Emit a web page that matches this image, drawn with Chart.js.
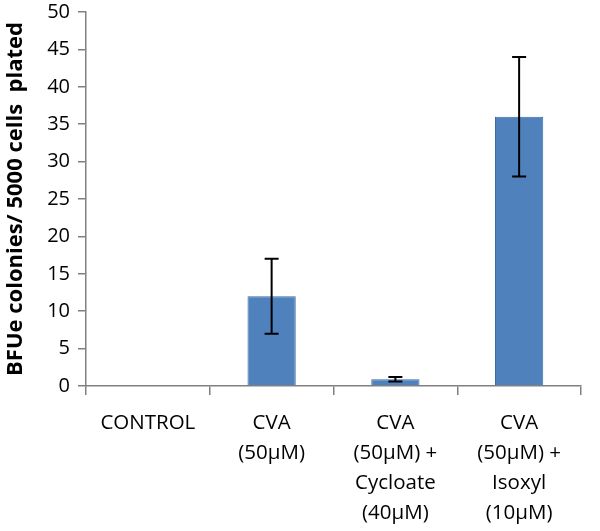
<!DOCTYPE html>
<html lang="en">

<head>
    <meta charset="UTF-8">
    <title>BFUe colonies</title>
    <style>
        html, body {
            margin: 0;
            padding: 0;
            background: #ffffff;
        }

        .chart {
            width: 600px;
            height: 531px;
        }
    </style>
</head>

<body>
    <div class="chart">
        <canvas id="bfueChart" width="600" height="531"></canvas>
    </div>

    <script src="https://cdn.jsdelivr.net/npm/chart.js"></script>

    <script>
        const categories = [
            ["CONTROL"],
            ["CVA", "(50µM)"],
            ["CVA", "(50µM) +", "Cycloate", "(40µM)"],
            ["CVA", "(50µM) +", "Isoxyl", "(10µM)"]
        ];
        const colonies = [0, 12, 0.9, 36];
        const colonyErrors = [0, 5, 0.3, 8];
        const yTicks = [0, 5, 10, 15, 20, 25, 30, 35, 40, 45, 50];

        const axisGray = "#808080";

        // draws the error bars from the y scale
        const errorBars = {
            id: "errorBars",
            afterDatasetsDraw(chart) {
                const ctx = chart.ctx;
                const yScale = chart.scales.y;
                const meta = chart.getDatasetMeta(0);
                ctx.save();
                ctx.strokeStyle = "#000000";
                ctx.lineWidth = 2;
                meta.data.forEach((bar, i) => {
                    const err = colonyErrors[i];
                    if (!err) return;
                    const x = bar.x;
                    const top = yScale.getPixelForValue(colonies[i] + err);
                    const bottom = yScale.getPixelForValue(colonies[i] - err);
                    ctx.beginPath();
                    ctx.moveTo(x, top);
                    ctx.lineTo(x, bottom);
                    ctx.moveTo(x - 7, top);
                    ctx.lineTo(x + 7, top);
                    ctx.moveTo(x - 7, bottom);
                    ctx.lineTo(x + 7, bottom);
                    ctx.stroke();
                });
                ctx.restore();
            }
        };

        let ctx = document.getElementById("bfueChart").getContext("2d");
        let chart = new Chart(ctx, {
            type: "bar",
            data: {
                labels: categories,
                datasets: [{
                    data: colonies,
                    backgroundColor: "#4F81BD",
                    borderColor: "#3A6CA8",
                    borderWidth: 1,
                    categoryPercentage: 1,
                    barPercentage: 0.39
                }]
            },
            options: {
                responsive: false,
                animation: false,
                layout: {
                    padding: { top: 12, right: 19, left: 0, bottom: 0 }
                },
                plugins: {
                    legend: { display: false },
                    tooltip: { enabled: false }
                },
                scales: {
                    x: {
                        afterFit: scale => { scale.height = 145; },
                        border: { color: axisGray, width: 1.5 },
                        grid: {
                            offset: true,
                            drawOnChartArea: false,
                            color: axisGray,
                            tickLength: 9,
                            lineWidth: 1.5
                        },
                        ticks: {
                            color: "#000000",
                            padding: 13,
                            maxRotation: 0,
                            font: { family: "Open Sans", size: 20.5, lineHeight: 1.465 }
                        }
                    },
                    y: {
                        min: 0,
                        max: 50,
                        afterFit: scale => {
                            scale.width = 86;
                            scale.paddingTop = 0;
                            scale.paddingBottom = 0;
                        },
                        afterBuildTicks: scale => {
                            scale.ticks = yTicks.map(v => ({ value: v }));
                        },
                        border: { color: axisGray, width: 1.5 },
                        grid: {
                            drawOnChartArea: false,
                            color: axisGray,
                            tickLength: 8,
                            lineWidth: 1.5
                        },
                        ticks: {
                            color: "#000000",
                            padding: 8,
                            font: { family: "Open Sans", size: 20 }
                        },
                        title: {
                            display: true,
                            text: "BFUe colonies/ 5000 cells  plated",
                            color: "#000000",
                            padding: { top: 3, bottom: 0 },
                            font: { family: "Open Sans", size: 22, weight: "bold" }
                        }
                    }
                }
            },
            plugins: [errorBars]
        });
    </script>
</body>

</html>
